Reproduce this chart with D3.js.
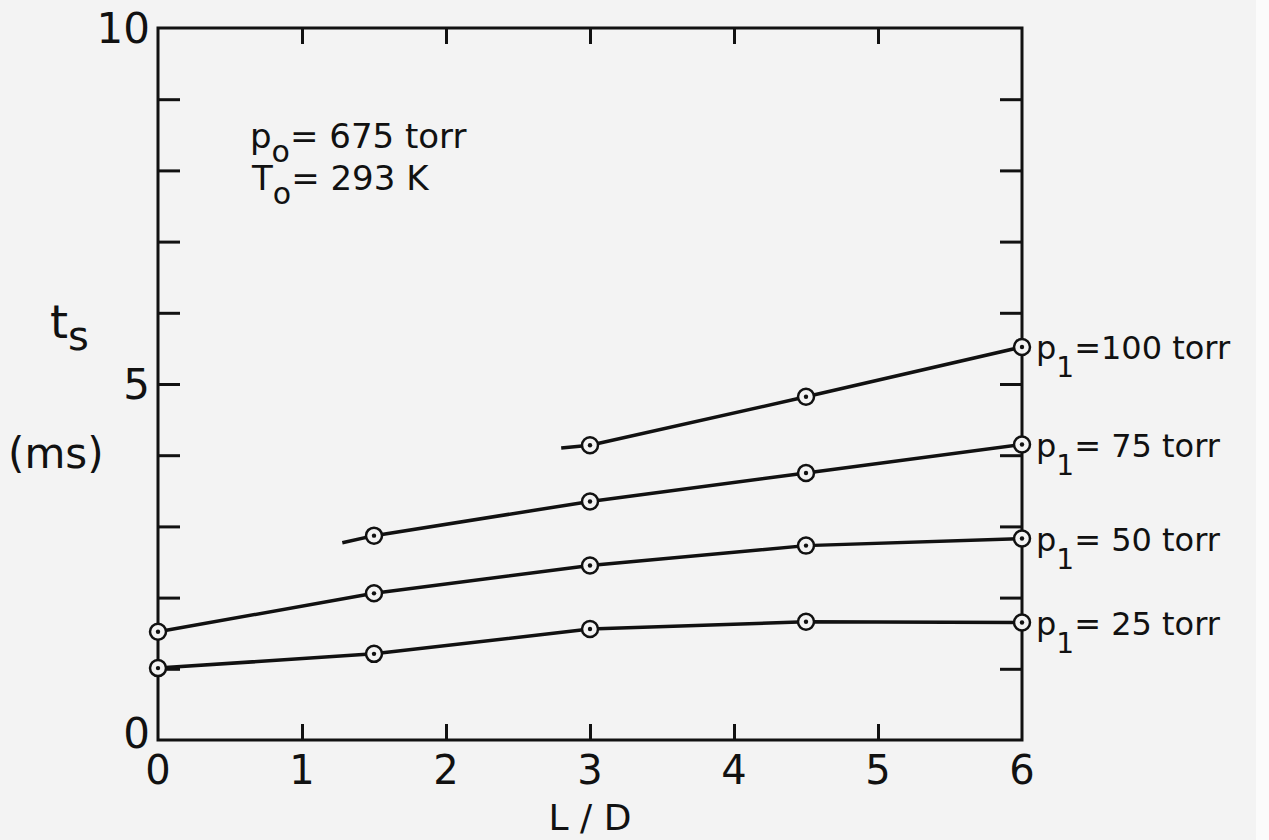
<!DOCTYPE html>
<html>
<head>
<meta charset="utf-8">
<script src="https://cdn.jsdelivr.net/npm/d3@7"></script>
<style>
  body { margin: 0; background: #f3f3f3; }
  text { font-family: "DejaVu Sans", "Liberation Sans", sans-serif; fill: #111; }
</style>
</head>
<body>
<svg id="chart" width="1269" height="840"></svg>
<script>
var svg = d3.select("#chart")
var width = +svg.attr("width"), height = +svg.attr("height")

// Data
var xTicks = [0, 1, 2, 3, 4, 5, 6]
var yTicks = [0, 1, 2, 3, 4, 5, 6, 7, 8, 9, 10]
var yTickLabels = {0: "0", 5: "5", 10: "10"}
var pressures = ["25", "50", "75", "100"]
var ldValues = [0, 1.5, 3, 4.5, 6]
var ts25 = [1.01, 1.21, 1.56, 1.66, 1.65]
var ts50 = [1.52, 2.06, 2.45, 2.73, 2.83]
var ts75 = [null, 2.87, 3.35, 3.75, 4.15]
var ts100 = [null, null, 4.14, 4.82, 5.52]
// where the fitted lines of the shorter curves begin
var lineStartX = [null, null, 1.28, 2.8]
var lineStartY = [null, null, 2.77, 4.10]

var series = [ts25, ts50, ts75, ts100]

var x = d3.scaleLinear().domain([0, 6]).range([158, 1022])
var y = d3.scaleLinear().domain([0, 10]).range([740, 28])

svg.append("rect").attr("width", width).attr("height", height).attr("fill", "#f3f3f3")
svg.append("rect").attr("x", 1256).attr("width", 13).attr("height", height).attr("fill", "#fbfbfb")

// frame
svg.append("rect")
    .attr("x", x(0)).attr("y", y(10))
    .attr("width", x(6) - x(0)).attr("height", y(0) - y(10))
    .attr("fill", "none").attr("stroke", "#111").attr("stroke-width", 3)

// ticks, all pointing inward
var tickLen = 16
svg.append("g").call(d3.axisBottom(x).tickValues(xTicks.slice(1, -1)).tickSize(-tickLen).tickFormat(""))
    .attr("transform", "translate(0," + y(0) + ")")
    .call(g => g.select(".domain").remove())
svg.append("g").call(d3.axisTop(x).tickValues(xTicks.slice(1, -1)).tickSize(-tickLen).tickFormat(""))
    .attr("transform", "translate(0," + y(10) + ")")
    .call(g => g.select(".domain").remove())
svg.append("g").call(d3.axisRight(y).tickValues(yTicks.slice(1, -1)).tickSize(tickLen + 6).tickFormat(""))
    .attr("transform", "translate(" + x(0) + ",0)")
    .call(g => g.select(".domain").remove())
svg.append("g").call(d3.axisLeft(y).tickValues(yTicks.slice(1, -1)).tickSize(tickLen + 6).tickFormat(""))
    .attr("transform", "translate(" + x(6) + ",0)")
    .call(g => g.select(".domain").remove())
svg.selectAll(".tick line").attr("stroke", "#111").attr("stroke-width", 3)

// tick labels
svg.selectAll("xlab").data(xTicks).enter().append("text")
    .attr("x", d => x(d)).attr("y", 784)
    .attr("text-anchor", "middle").style("font-size", "40px")
    .text(d => d)
svg.selectAll("ylab").data(yTicks.filter(d => yTickLabels[d] !== undefined)).enter().append("text")
    .attr("x", x(0) - 8).attr("y", d => y(d) + (d === 0 ? 8 : 15))
    .attr("text-anchor", "end").style("font-size", "42px")
    .text(d => yTickLabels[d])

// axis titles
svg.append("text").attr("x", 590).attr("y", 830).attr("text-anchor", "middle")
    .style("font-size", "36px").text("L / D")
var tLab = svg.append("text").attr("x", 50).attr("y", 338).style("font-size", "46px")
tLab.append("tspan").text("t")
tLab.append("tspan").attr("dy", 12).style("font-size", "40px").text("s")
svg.append("text").attr("x", 8).attr("y", 468).style("font-size", "42px").text("(ms)")

// conditions note
var n1 = svg.append("text").attr("x", 250).attr("y", 148).style("font-size", "34px")
n1.append("tspan").text("p")
n1.append("tspan").attr("dy", 14).style("font-size", "30px").text("o")
n1.append("tspan").attr("dy", -14).text("= 675 torr")
var n2 = svg.append("text").attr("x", 252).attr("y", 190).style("font-size", "34px")
n2.append("tspan").text("T")
n2.append("tspan").attr("dy", 14).style("font-size", "30px").text("o")
n2.append("tspan").attr("dy", -14).text("= 293 K")

// curves
var line = d3.line().x(d => x(d[0])).y(d => y(d[1]))
series.forEach(function(vals, i) {
    var pts = []
    if (lineStartX[i] !== null) pts.push([lineStartX[i], lineStartY[i]])
    vals.forEach(function(v, j) { if (v !== null) pts.push([ldValues[j], v]) })
    svg.append("path").datum(pts).attr("d", line)
        .attr("fill", "none").attr("stroke", "#111").attr("stroke-width", 3.5)
        .attr("stroke-linejoin", "round")

    var marks = pts.filter(p => ldValues.indexOf(p[0]) >= 0)
    var g = svg.append("g")
    g.selectAll("circle.ring").data(marks).enter().append("circle")
        .attr("cx", d => x(d[0])).attr("cy", d => y(d[1])).attr("r", 8)
        .attr("fill", "#f3f3f3").attr("stroke", "#111").attr("stroke-width", 2.5)
    g.selectAll("circle.dot").data(marks).enter().append("circle")
        .attr("cx", d => x(d[0])).attr("cy", d => y(d[1])).attr("r", 2.2)
        .attr("fill", "#111")

    var last = vals[vals.length - 1]
    var lab = svg.append("text").attr("x", x(6) + 14).attr("y", y(last) + 12).style("font-size", "32px")
    lab.append("tspan").text("p")
    lab.append("tspan").attr("dy", 18).style("font-size", "28px").text("1")
    lab.append("tspan").attr("dy", -18).text("=" + (pressures[i] === "100" ? "" : " ") + pressures[i] + " torr")
})
</script>
</body>
</html>
